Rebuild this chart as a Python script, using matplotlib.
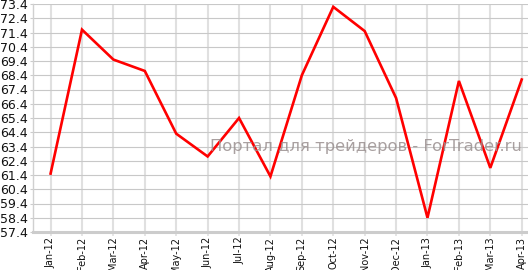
import matplotlib
matplotlib.use("Agg")
import matplotlib.pyplot as plt
import numpy as np

months = ["Jan-12", "Feb-12", "Mar-12", "Apr-12", "May-12", "Jun-12", "Jul-12",
          "Aug-12", "Sep-12", "Oct-12", "Nov-12", "Dec-12", "Jan-13", "Feb-13",
          "Mar-13", "Apr-13"]
values = [61.5, 71.6, 69.5, 68.7, 64.3, 62.7, 65.4, 61.3, 68.4, 73.2, 71.5,
          66.8, 58.4, 68.0, 61.9, 68.1]
yticks = [57.4, 58.4, 59.4, 60.4, 61.4, 62.4, 63.4, 64.4, 65.4, 66.4, 67.4,
          68.4, 69.4, 70.4, 71.4, 72.4, 73.4]
watermark = "Портал для трейдеров - ForTrader.ru"

W, H = 528, 270
fig = plt.figure(figsize=(W / 100, H / 100), dpi=100)
ax = fig.add_axes([33 / W, (H - 232) / H, (W - 33) / W, 228 / H])

x = np.arange(len(months))
ax.plot(x, values, color="#ff0000", lw=1.9, zorder=3, solid_joinstyle="miter")

ax.set_ylim(57.4, 73.4)
ax.set_xlim(-0.56, 15.2)
ax.set_yticks(yticks)
ax.set_yticklabels([f"{v:.1f}" for v in yticks], fontsize=9, color="#111111")
ax.set_xticks(x)
ax.set_xticklabels(months, rotation=90, fontsize=7, color="#111111")

for yv in yticks:
    ax.axhline(yv, color="#c8c8c8", lw=0.8, zorder=1)
for xv in x:
    ax.axvline(xv, color="#e0e0e0", lw=1.5, zorder=0.9)

for s in ["top", "right"]:
    ax.spines[s].set_visible(False)
ax.spines["left"].set_color("#d0d0d0")
ax.spines["left"].set_linewidth(1.0)
ax.spines["bottom"].set_color("#cccccc")
ax.spines["bottom"].set_linewidth(2.2)

ax.tick_params(axis="y", length=2.5, width=0.8, color="#cccccc", pad=1)
ax.tick_params(axis="x", length=3.0, width=1.2, color="#e0e0e0", pad=0.4)

ax.text(0.673, 0.375, watermark, transform=ax.transAxes, fontsize=11.8,
        color="#9a9090", alpha=0.85, ha="center", va="center", zorder=5)

fig.savefig("out.png", dpi=100)
